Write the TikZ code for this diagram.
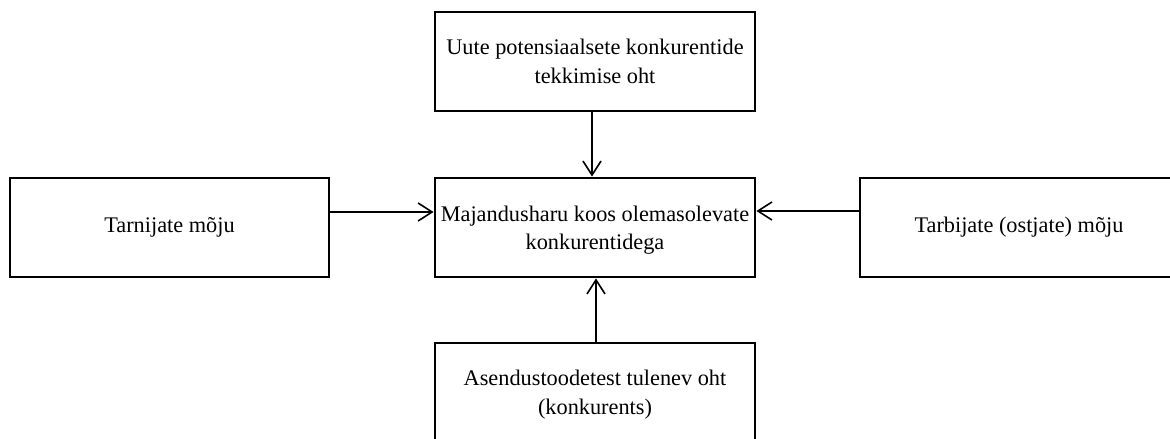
\documentclass[tikz,border=0pt]{standalone}
\usepackage{fontspec}
\setmainfont{Liberation Serif}
\usetikzlibrary{arrows.meta}
\tikzset{
  boxnode/.style={draw=black, line width=2.9pt, minimum width=#1, minimum height=99pt, align=center, inner sep=0pt, font=\fontsize{22.3}{28.3}\selectfont},
  boxnode/.default=320pt,
  conn/.style={line width=1.6pt, -{Straight Barb[length=14pt,width=18pt,line width=1.6pt]}}
}
\begin{document}
\begin{tikzpicture}[x=1pt,y=-1pt]
\useasboundingbox (0,0) rectangle (1170,439);
\clip (0,0) rectangle (1170,439);
\fill[white] (0,0) rectangle (1170,439);
\node[boxnode] (top) at (595,61.5) {Uute potensiaalsete konkurentide\\tekkimise oht};
\node[boxnode] (mid) at (595,227.5) {\rule{0pt}{21pt}Majandusharu koos olemasolevate\\konkurentidega};
\node[boxnode=319pt] (lft) at (169.5,227.5) {Tarnijate mõju};
\node[boxnode=318pt] (rgt) at (1019,227.5) {Tarbijate (ostjate) mõju};
\node[boxnode, minimum height=103pt] (bot) at (595,394.5) {Asendustoodetest tulenev oht\\(konkurents)};
\draw[conn] ([xshift=-3pt]top.south) -- ([xshift=-3pt]mid.north);
\draw[conn] ([yshift=15.5pt,xshift=-1pt]lft.east) -- ([yshift=15.5pt]mid.west);
\draw[conn] ([yshift=16.5pt]rgt.west) -- ([yshift=16.5pt]mid.east);
\draw[conn] ([xshift=1pt]bot.north) -- ([xshift=1pt]mid.south);
\end{tikzpicture}
\end{document}
